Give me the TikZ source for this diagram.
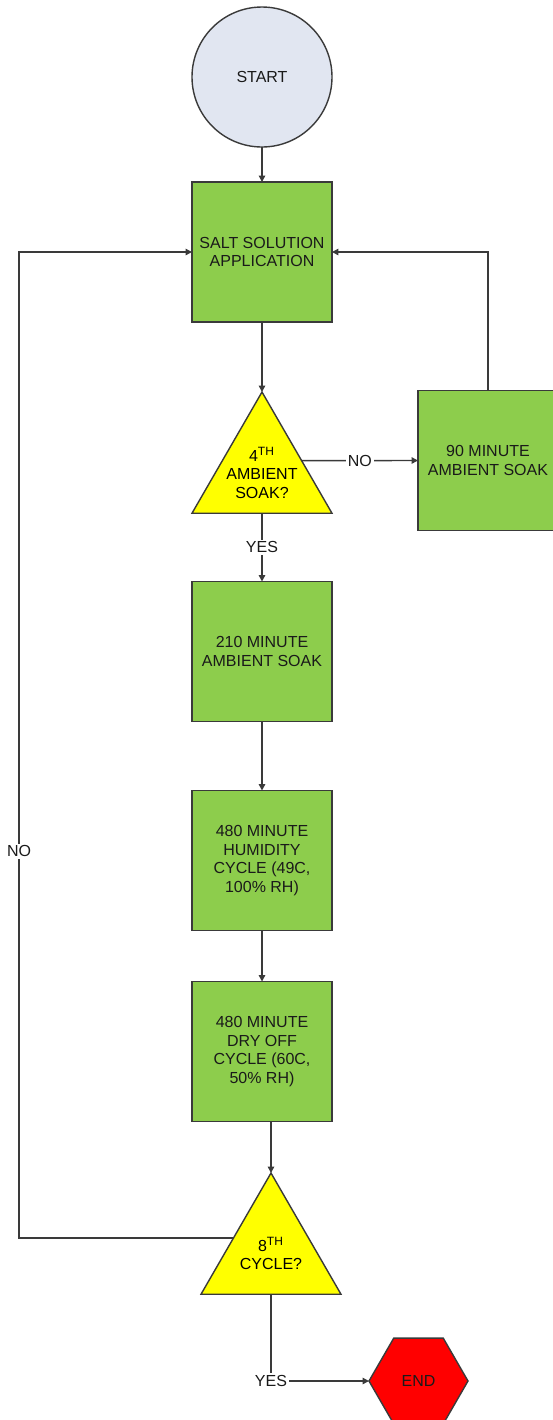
\documentclass[tikz,border=0pt]{standalone}
\usepackage{fontspec}
\setmainfont{Liberation Sans}
\usetikzlibrary{arrows.meta,shapes.geometric}
\definecolor{ink}{HTML}{1A1A1A}
\definecolor{edge}{HTML}{3A3A3A}
\definecolor{startfill}{HTML}{E1E6F1}
\definecolor{stepfill}{HTML}{8DCD4C}
\definecolor{askfill}{HTML}{FFFF00}
\definecolor{endfill}{HTML}{FF0000}

\begin{document}
\begin{tikzpicture}[
  x=0.5pt, y=-0.5pt,
  font={\fontsize{8}{9.2}\selectfont},
  >={Triangle[length=3.2pt, width=3.2pt]},
  chartnode/.style={draw=edge, line width=0.7pt, text=ink, align=center, inner sep=0pt, outer sep=0pt},
  startnode/.style={chartnode, circle, fill=startfill, minimum size=70pt},
  process/.style={chartnode, rectangle, fill=stepfill, minimum width=70pt, minimum height=70pt},
  question/.style={chartnode, regular polygon, regular polygon sides=3, fill=askfill, minimum size=80.8pt},
  stopnode/.style={chartnode, regular polygon, regular polygon sides=6,
    fill=endfill, minimum size=49.5pt},
  flow/.style={->, draw=edge, line width=0.7pt},
  lbl/.style={fill=white, inner sep=1pt, text=ink}
]
\useasboundingbox (0,0) rectangle (552,1420);

% ---------------------------------------------------------------------------
% main column
% ---------------------------------------------------------------------------
\node[startnode] (start) at (262,77) {START};
\node[process] (salt) at (262,252) {SALT SOLUTION\\APPLICATION};
\node[question, label={[name=q4t, align=center]center:{4\textsuperscript{TH}\\AMBIENT\\SOAK?}}]
  (q4) at (262,472.8) {};
\node[process] (soak90) at (488,460.5) {90 MINUTE\\AMBIENT SOAK};
\node[process] (soak210) at (262,651.5) {210 MINUTE\\AMBIENT SOAK};
\node[process] (humid) at (262,860.5) {480 MINUTE\\HUMIDITY\\CYCLE (49C,\\100\% RH)};
\node[process] (dry) at (262,1051.5) {480 MINUTE\\DRY OFF\\CYCLE (60C,\\50\% RH)};
\node[question, label={[name=q8t, align=center]center:{8\textsuperscript{TH}\\CYCLE?}}]
  (q8) at (271,1253.8) {};
\node[stopnode] (stop) at (418.5,1381) {END};

\coordinate (loopx) at (19,0);

% ---------------------------------------------------------------------------
% connectors
% ---------------------------------------------------------------------------
\draw[flow] (start) -- (salt);
\draw[flow] (salt.south) -- (q4.corner 1);
\draw[flow] (q4.17) -- node[lbl] {NO} (soak90.west);
\draw[flow] (soak90.north) |- (salt.east);
\draw[flow] (q4.south) -- node[lbl] {YES} (soak210.north);
\draw[flow] (soak210) -- (humid);
\draw[flow] (humid) -- (dry);
\draw[flow] (q8.corner 1 |- dry.south) -- (q8.corner 1);
\draw[flow] (q8.157) -- (q8.157 -| loopx) -- node[lbl, pos=0.392] {NO} (salt.west -| loopx) -- (salt.west);
\draw[flow] (q8.south) |- node[lbl] {YES} (stop.west);

\end{tikzpicture}
\end{document}
